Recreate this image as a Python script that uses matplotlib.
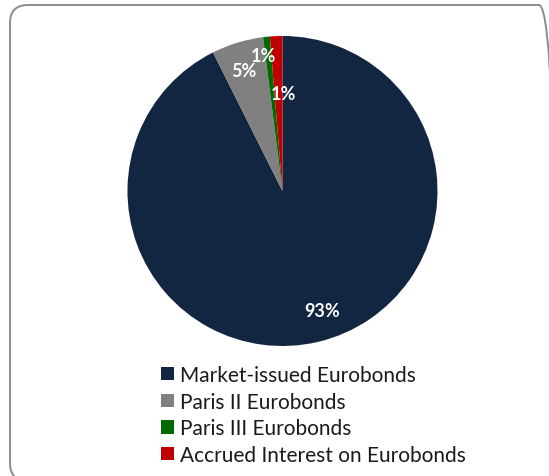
import matplotlib.pyplot as plt
from matplotlib.patches import FancyBboxPatch
import numpy as np

plt.rcParams['font.family'] = ['Lato', 'DejaVu Sans']

# data
categories = ['Market-issued Eurobonds', 'Paris II Eurobonds',
              'Paris III Eurobonds', 'Accrued Interest on Eurobonds']
shares = [92.6, 5.4, 0.7, 1.3]
labels = ['93%', '5%', '1%', '1%']
colors = ['#132641', '#808080', '#006A00', '#C00000']

# label placement (fraction of radius, angle nudge in degrees)
label_r = [0.81, 0.82, 0.88, 0.63]
label_nudge = [5, 1, 2, -3]

fig = plt.figure(figsize=(5.49, 4.77), dpi=100)

# rounded chart border in inches, right and bottom run just past the picture
border = FancyBboxPatch((0.10, -0.05), 5.47, 4.76,
                        boxstyle='round,pad=0,rounding_size=0.18',
                        transform=fig.dpi_scale_trans, fill=False,
                        edgecolor='#8c8c8c', linewidth=1.4, clip_on=False)
fig.patches.append(border)

ax = fig.add_axes([0.2322, 0.2725, 0.5647, 0.65])
wedges, _ = ax.pie(shares, colors=colors, startangle=90, counterclock=False,
                   radius=1)
ax.set_xlim(-1, 1)
ax.set_ylim(-1, 1)
ax.set_aspect('equal')
ax.axis('off')

for w, lab, r, d in zip(wedges, labels, label_r, label_nudge):
    ang = np.deg2rad((w.theta1 + w.theta2) / 2 + d)
    ax.text(r * np.cos(ang), r * np.sin(ang), lab, color='white',
            fontsize=13, fontweight='bold', ha='center', va='center')

leg = fig.legend(wedges, categories, loc='upper left',
                 bbox_to_anchor=(161 / 549, 1 - 366 / 477),
                 frameon=False, fontsize=15, handlelength=0.62,
                 handleheight=0.62, handletextpad=0.3, labelspacing=0.32,
                 borderaxespad=0, borderpad=0)
for t in leg.get_texts():
    t.set_color('#1a1a1a')

fig.savefig('out.png', dpi=100)
